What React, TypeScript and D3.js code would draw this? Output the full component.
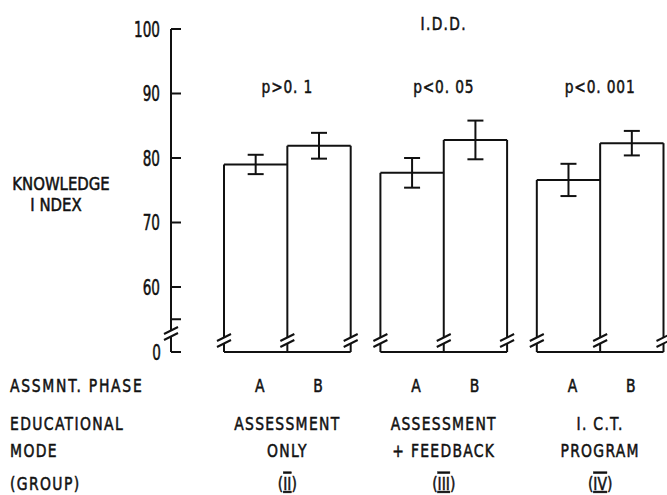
import React, { useEffect } from 'react';
import * as d3 from 'd3';

// values
const groups = ['II', 'III', 'IV'];
const phases = ['A', 'B'];
const meanA = [79.0, 77.7, 76.6];
const meanB = [81.9, 82.8, 82.3];
const errA = [1.5, 2.3, 2.5];
const errB = [2.0, 3.0, 1.9];
const pLabels = ['p>0. 1', 'p<0. 05', 'p<0. 001'];
const modeLine1 = ['ASSESSMENT', 'ASSESSMENT', 'I. C.T.'];
const modeLine2 = ['ONLY', '+ FEEDBACK', 'PROGRAM'];
const groupLabels = ['II', 'III', 'IV'];
const yTicks = [60, 70, 80, 90, 100];
const minorTicks = [55];

const W = 667;
const H = 495;
const FONT = "'DejaVu Sans Condensed', 'Liberation Sans Narrow', sans-serif";
const INK = '#111';

// text squeezed horizontally, like the narrow typeface of the original
const T = ({ x, y, size = 17, sx = 1, ls = 0, anchor = 'start', dy = 0, children }) => (
  <text
    transform={`translate(${x},${y}) scale(${sx},1)`}
    dy={dy}
    fontSize={size}
    letterSpacing={ls}
    textAnchor={anchor}
    stroke={INK}
    strokeWidth={0.5}
  >
    {children}
  </text>
);

const App = () => {
  useEffect(() => {
    document.body.style.margin = '0';
  }, []);

  const y = d3.scaleLinear().domain([60, 100]).range([287, 29]);
  const axisX = 171;
  const baseY = 352;
  const axisBreakY = 333;
  const barBreakY = 340;

  const xGroup = d3.scaleBand().domain(groups).range([224, 663.5]).paddingInner(0.19);
  const xPhase = d3.scaleBand().domain(phases).range([0, xGroup.bandwidth()]);

  const breakMark = (x, by, key) => (
    <g key={key}>
      <line x1={x - 7} y1={by + 1} x2={x + 7} y2={by - 6} />
      <line x1={x - 7} y1={by + 7} x2={x + 7} y2={by} />
    </g>
  );

  const vBroken = (x, top, by, key) => (
    <g key={key}>
      <line x1={x} y1={top} x2={x} y2={by - 3} />
      <line x1={x} y1={by + 4} x2={x} y2={baseY} />
      {breakMark(x, by, key + 'b')}
    </g>
  );

  return (
    <svg width={W} height={H} style={{ display: 'block', background: '#fff' }} fontFamily={FONT}>
      <g stroke={INK} strokeWidth={2} fill="none">
        {/* y axis */}
        <line x1={axisX} y1={y(100)} x2={axisX} y2={axisBreakY - 3} />
        <line x1={axisX} y1={axisBreakY + 4} x2={axisX} y2={baseY} />
        {breakMark(axisX, axisBreakY, 'ab')}
        {yTicks.concat(minorTicks).map((t) => (
          <line key={t} x1={axisX} y1={y(t)} x2={axisX + 10} y2={y(t)} />
        ))}
        <line x1={axisX} y1={baseY} x2={axisX + 10} y2={baseY} />

        {/* bars */}
        {groups.map((g, i) => {
          const gx = xGroup(g);
          const xa = gx + xPhase('A');
          const xb = gx + xPhase('B');
          const xe = gx + xGroup.bandwidth();
          const ya = y(meanA[i]);
          const yb = y(meanB[i]);
          const capW = 8;
          const ca = xa + xPhase.bandwidth() / 2;
          const cb = xb + xPhase.bandwidth() / 2;
          return (
            <g key={g}>
              {vBroken(xa, ya, barBreakY, g + 'l')}
              {vBroken(xb, Math.min(ya, yb), barBreakY, g + 'm')}
              {vBroken(xe, yb, barBreakY, g + 'r')}
              <line x1={xa} y1={ya} x2={xb} y2={ya} />
              <line x1={xb} y1={yb} x2={xe} y2={yb} />
              <line x1={xa} y1={baseY} x2={xe} y2={baseY} />
              {/* error bars */}
              <line x1={ca} y1={y(meanA[i] + errA[i])} x2={ca} y2={y(meanA[i] - errA[i])} />
              <line x1={ca - capW} y1={y(meanA[i] + errA[i])} x2={ca + capW} y2={y(meanA[i] + errA[i])} />
              <line x1={ca - capW} y1={y(meanA[i] - errA[i])} x2={ca + capW} y2={y(meanA[i] - errA[i])} />
              <line x1={cb} y1={y(meanB[i] + errB[i])} x2={cb} y2={y(meanB[i] - errB[i])} />
              <line x1={cb - capW} y1={y(meanB[i] + errB[i])} x2={cb + capW} y2={y(meanB[i] + errB[i])} />
              <line x1={cb - capW} y1={y(meanB[i] - errB[i])} x2={cb + capW} y2={y(meanB[i] - errB[i])} />
            </g>
          );
        })}
      </g>

      <g fill={INK}>
        {/* tick labels */}
        {yTicks.map((t) => (
          <T key={t} x={160} y={y(t)} dy="0.36em" anchor="end" size={21} sx={0.72}>{t}</T>
        ))}
        <T x={161} y={baseY} dy="0.36em" anchor="end" size={21} sx={0.72}>0</T>

        {/* axis title */}
        <T x={61} y={190} anchor="middle" size={18} sx={0.92}>KNOWLEDGE</T>
        <T x={56} y={211} anchor="middle" size={18} sx={0.92}>I NDEX</T>

        <T x={xGroup('III') + xGroup.bandwidth() / 2} y={30} anchor="middle" size={17} sx={0.9} ls={1.5}>I.D.D.</T>

        {/* row labels */}
        <T x={10} y={392} size={18} sx={0.86} ls={2}>ASSMNT. PHASE</T>
        <T x={10} y={430} size={18} sx={0.86} ls={1.6}>EDUCATIONAL</T>
        <T x={10} y={457} size={18} sx={0.86} ls={1.6}>MODE</T>
        <T x={10} y={490} size={18} sx={0.86} ls={1.6}>(GROUP)</T>

        {groups.map((g, i) => {
          const cx = xGroup(g) + xGroup.bandwidth() / 2;
          return (
            <g key={g}>
              <T x={cx} y={93} anchor="middle" size={18} sx={0.85} ls={1}>{pLabels[i]}</T>
              {phases.map((p) => (
                <T key={p} x={xGroup(g) + xPhase(p) + xPhase.bandwidth() / 2 + (p === 'A' ? 4 : -1)} y={392} anchor="middle" size={18} sx={0.86}>{p}</T>
              ))}
              <T x={cx} y={430} anchor="middle" size={18} sx={0.86} ls={1.5}>{modeLine1[i]}</T>
              <T x={cx} y={457} anchor="middle" size={18} sx={0.86} ls={1.5}>{modeLine2[i]}</T>
              <T x={cx} y={490} anchor="middle" size={18} sx={0.86}>
                (<tspan textDecoration="overline underline">{groupLabels[i]}</tspan>)
              </T>
            </g>
          );
        })}
      </g>
    </svg>
  );
};

export default App;
